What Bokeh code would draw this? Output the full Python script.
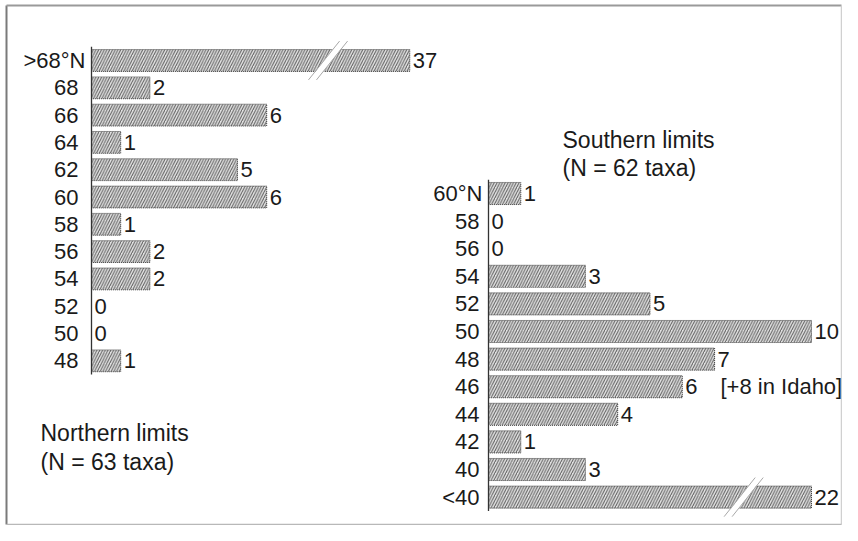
from bokeh.plotting import figure
from bokeh.models import Range1d, ColumnDataSource
from bokeh.embed import file_html
from bokeh.resources import INLINE
from bokeh.core.properties import value

# ---------------- data ----------------
north_labels = [">68°N", "68", "66", "64", "62", "60", "58", "56", "54", "52", "50", "48"]
north_counts = [37, 2, 6, 1, 5, 6, 1, 2, 2, 0, 0, 1]
south_labels = ["60°N", "58", "56", "54", "52", "50", "48", "46", "44", "42", "40", "<40"]
south_counts = [1, 0, 0, 3, 5, 10, 7, 6, 4, 1, 3, 22]
north_title = ["Northern limits", "(N = 63 taxa)"]
south_title = ["Southern limits", "(N = 62 taxa)"]
south_note = "[+8 in Idaho]"
south_note_row = "46"

# ---------------- layout (figure pixels) ----------------
W, H = 842, 525
FONT = value("Liberation Sans")
LEFT = dict(axis_px=91, row0_px=60, ppu=29.2, ppr=27.3, cap=10.9, brk=8.1,
            tick_off=13, tickN_off=6)
RIGHT = dict(axis_px=488, row0_px=193, ppu=32.3, ppr=27.6, cap=10.0, brk=7.9,
             tick_off=9, tickN_off=6)


def xrange_for(c):
    return Range1d(-c["axis_px"] / c["ppu"], (W - c["axis_px"]) / c["ppu"])


def yrange_for(c):
    return Range1d((H - c["row0_px"]) / c["ppr"], -c["row0_px"] / c["ppr"])


def px2x(c, fx):
    return (fx - c["axis_px"]) / c["ppu"]


def px2y(c, fy):
    return (fy - c["row0_px"]) / c["ppr"]


p = figure(width=W, height=H, x_range=xrange_for(LEFT), y_range=yrange_for(LEFT),
           output_backend="svg", toolbar_location=None, title=None,
           x_axis_location=None, y_axis_location=None, min_border=0)
p.extra_x_ranges = {"s": xrange_for(RIGHT)}
p.extra_y_ranges = {"s": yrange_for(RIGHT)}
p.xgrid.visible = False
p.ygrid.visible = False
p.outline_line_color = None
p.background_fill_color = "white"
p.border_fill_color = "white"

# outer frame (left / top darker, right / bottom faint)
p.line(x=[px2x(LEFT, 6), px2x(LEFT, 6)], y=[px2y(LEFT, 5), px2y(LEFT, 524)],
       line_color="#7a7a7a", line_width=2)
p.line(x=[px2x(LEFT, 6), px2x(LEFT, 841)], y=[px2y(LEFT, 5), px2y(LEFT, 5)],
       line_color="#9a9a9a", line_width=2)
p.line(x=[px2x(LEFT, 841), px2x(LEFT, 841)], y=[px2y(LEFT, 5), px2y(LEFT, 524)],
       line_color="#d0d0d0", line_width=1.5)
p.line(x=[px2x(LEFT, 6), px2x(LEFT, 841)], y=[px2y(LEFT, 524), px2y(LEFT, 524)],
       line_color="#b8b8b8", line_width=1.5)


def draw_chart(c, labels, counts, rn):
    n = len(labels)
    idx = list(range(n))
    kw = dict(x_range_name=rn, y_range_name=rn)
    ppu, ppr = c["ppu"], c["ppr"]
    half = 0.4
    # bars
    bi = [i for i in idx if counts[i] > 0]
    src = ColumnDataSource(dict(y=bi, right=[min(counts[i], c["cap"]) for i in bi]))
    p.hbar(y="y", left=0, right="right", height=2 * half, source=src,
           fill_color="#e2e2e2", hatch_pattern="/", hatch_color="#5c5c5c",
           hatch_scale=5.5, hatch_weight=1.0,
           line_color="#404040", line_width=1, line_dash="1 1", **kw)
    # axis line
    p.segment(x0=[0], x1=[0], y0=[-0.5], y1=[n - 0.5], line_color="#333333",
              line_width=1.3, **kw)
    # tick labels
    tx = [-(c["tickN_off"] if l.endswith("N") else c["tick_off"]) / ppu for l in labels]
    p.text(x=tx, y=idx, text=labels, text_align="right", text_baseline="middle",
           text_font=FONT, text_font_size="22px", text_color="#1a1a1a", **kw)
    # value labels
    vx = [min(v, c["cap"]) + 3 / ppu for v in counts]
    p.text(x=vx, y=idx, text=[str(v) for v in counts], text_align="left",
           text_baseline="middle", text_font=FONT, text_font_size="22px",
           text_color="#1a1a1a", **kw)
    # breaks for truncated bars
    g = 4 / ppu
    sh = 9.5 / ppu
    ext = 7
    for i in idx:
        if counts[i] > c["cap"]:
            top = i - half - 1.5 / ppr
            bot = i + half + 1.5 / ppr
            tc = c["brk"] + sh
            bc = c["brk"] - sh
            p.patch(x=[tc - g, tc + g, bc + g, bc - g], y=[top, top, bot, bot],
                    fill_color="white", line_color=None, **kw)
            exd = ext * (19 / 22) / ppu
            for e in (-g, g):
                p.line(x=[bc + e - exd, tc + e + exd],
                       y=[bot + ext / ppr, top - ext / ppr],
                       line_color="#a8a8a8", line_width=1, **kw)


draw_chart(LEFT, north_labels, north_counts, "default")
draw_chart(RIGHT, south_labels, south_counts, "s")

# titles
p.text(x=[px2x(LEFT, 40)] * 2, y=[px2y(LEFT, 432), px2y(LEFT, 461)], text=north_title,
       text_align="left", text_baseline="alphabetic", text_font=FONT,
       text_font_size="23px", text_color="#1a1a1a")
p.text(x=[px2x(RIGHT, 562)] * 2, y=[px2y(RIGHT, 139), px2y(RIGHT, 167)], text=south_title,
       text_align="left", text_baseline="alphabetic", text_font=FONT,
       text_font_size="23px", text_color="#1a1a1a", x_range_name="s", y_range_name="s")
note_i = south_labels.index(south_note_row)
p.text(x=[px2x(RIGHT, 720)], y=[note_i], text=[south_note], text_align="left",
       text_baseline="middle", text_font=FONT, text_font_size="22px",
       text_color="#1a1a1a", x_range_name="s", y_range_name="s")

open("out.html", "w").write(file_html(p, INLINE))
